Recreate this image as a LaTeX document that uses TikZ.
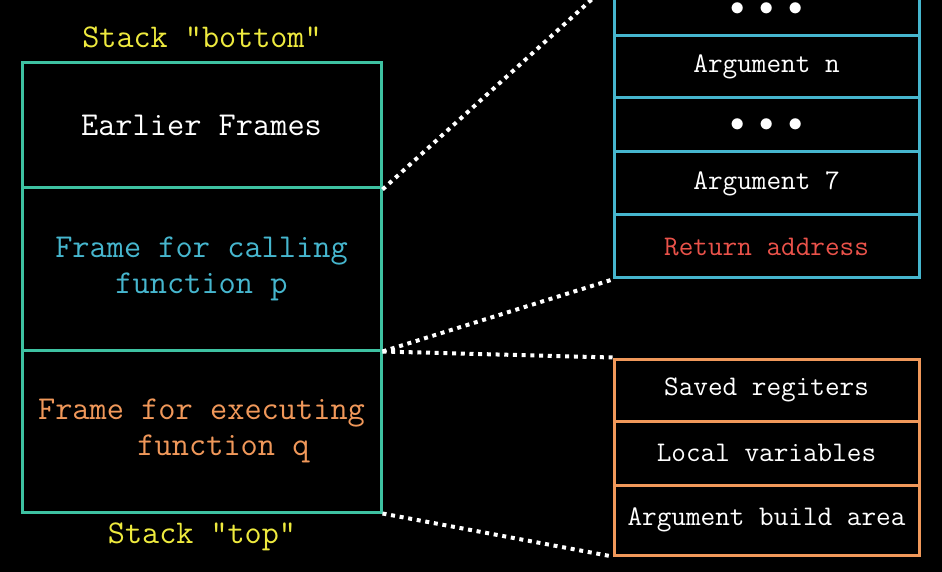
\documentclass[tikz,border=0pt]{standalone}
\usepackage{fontspec}
\definecolor{tealc}{RGB}{62,194,162}
\definecolor{bluec}{RGB}{70,182,206}
\definecolor{orangec}{RGB}{240,152,90}
\definecolor{redc}{RGB}{234,82,74}
\definecolor{yellowc}{RGB}{238,234,62}
\tikzset{
  cellL/.style={draw=tealc, line width=1.5pt, minimum width=179.5pt, inner sep=0pt, align=center,
    font=\ttfamily\fontsize{16.7}{18.2}\selectfont},
  cellB/.style={draw=bluec, line width=1.5pt, minimum width=152.5pt, inner sep=0pt, text=white,
    font=\ttfamily\fontsize{14.2}{16}\selectfont},
  cellO/.style={cellB, draw=orangec},
  lbl/.style={text=yellowc, inner sep=0pt, font=\ttfamily\fontsize{16.6}{18}\selectfont},
  dotline/.style={draw=white, line width=2pt, dash pattern=on 2pt off 2.35pt}
}
\begin{document}
\begin{tikzpicture}[x=0.5pt, y=-0.5pt]
  \fill[black] (0,0) rectangle (942,572);
  \useasboundingbox (0,0) rectangle (942,572);
  \begin{scope}
  \clip (0,0) rectangle (942,572);
  % stack on the left
  \node[lbl] (bottom) at (202,37) {Stack "bottom"};
  \node[cellL, minimum height=62.5pt, text=white] (early) at (201.5,125.5) {Earlier Frames};
  \node[cellL, minimum height=81pt, text=bluec] (callp) at (201.5,269) {Frame for calling\\function p};
  \node[cellL, minimum height=81pt, text=orangec] (execq) at (201.5,431) {Frame for executing\\\hspace*{22pt}function q};
  \node[lbl] (top) at (202,537) {Stack "top"};
  % caller frame
  \node[cellB, minimum height=27pt] (dotsA) at (766.5,9) {$\bullet\;\bullet\;\bullet$};
  \node[cellB, minimum height=31pt] (argn) at (766.5,67) {Argument n};
  \node[cellB, minimum height=27pt] (dotsB) at (766.5,125) {$\bullet\;\bullet\;\bullet$};
  \node[cellB, minimum height=31.5pt] (arg7) at (766.5,183.5) {Argument 7};
  \node[cellB, minimum height=31.5pt, text=redc] (ret) at (766.5,246.5) {Return address};
  % current frame
  \node[cellO, minimum height=31pt] (saved) at (766.5,390) {Saved regiters};
  \node[cellO, minimum height=32pt] (local) at (766.5,453) {Local variables};
  \node[cellO, minimum height=35pt] (build) at (766.5,520) {Argument build area};
  % zoom lines
  \draw[dotline] (early.south east) -- (dotsA.north west);
  \draw[dotline] (callp.south east) -- (ret.south west);
  \draw[dotline] (callp.south east) -- (saved.north west);
  \draw[dotline] (execq.south east) -- (build.south west);
  \end{scope}
\end{tikzpicture}
\end{document}
